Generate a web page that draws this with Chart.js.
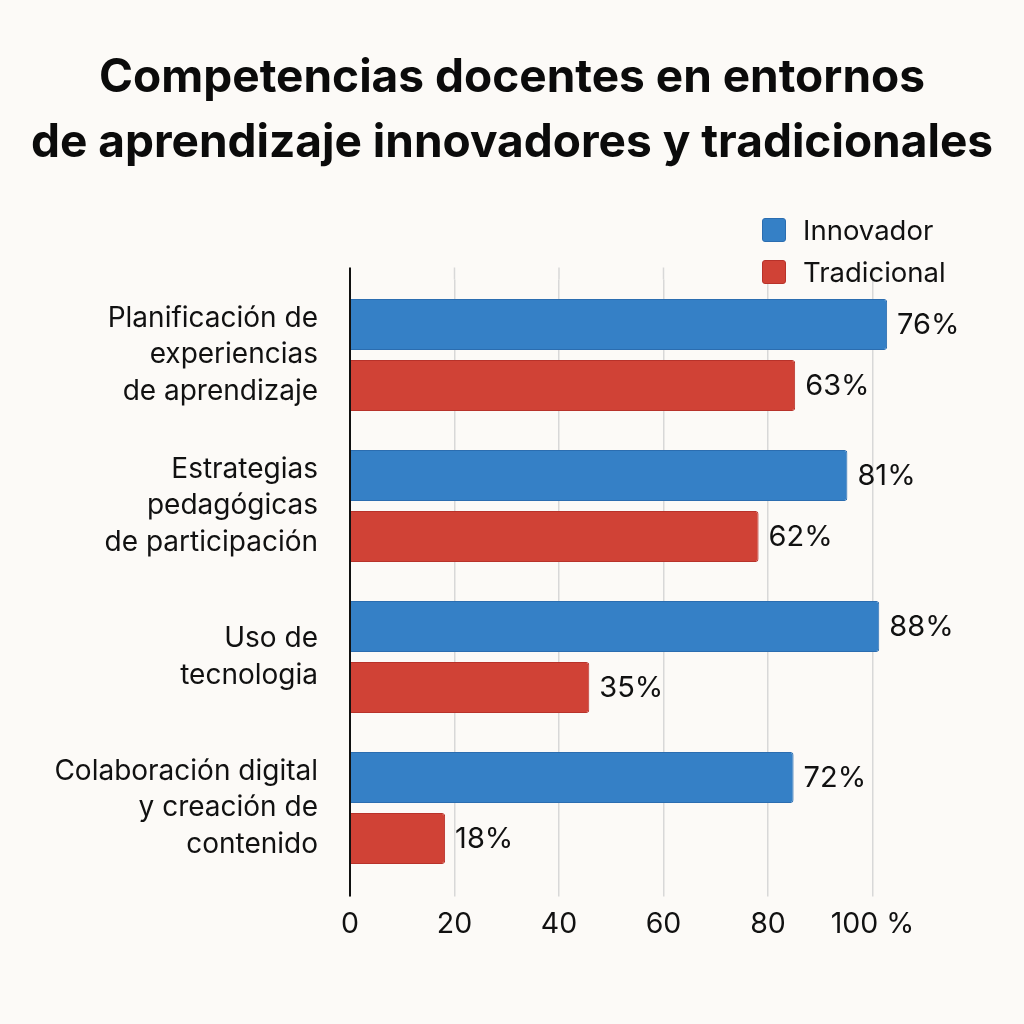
<!DOCTYPE html>
<html lang="es">
<head>
<meta charset="utf-8">
<title>Competencias docentes</title>
<script src="https://cdn.jsdelivr.net/npm/chart.js@4.4.1/dist/chart.umd.min.js"></script>
<style>
    html, body { margin: 0; padding: 0; background: #fcfaf7; }
    .chart { position: relative; width: 1024px; height: 1024px; }
    .legend { position: absolute; left: 762px; top: 209px; font-family: Inter, sans-serif; font-size: 27.5px; color: #111; }
    .legend__item { display: flex; align-items: center; height: 42px; }
    .legend__box { width: 24px; height: 24px; border-radius: 3px; margin-right: 17px; box-sizing: border-box; border: 1px solid; }
</style>
</head>
<body>
<div class="chart">
    <canvas id="chart" width="1024" height="1024"></canvas>
    <div class="legend"></div>
</div>
<script>
const titleLines = ['Competencias docentes en entornos', 'de aprendizaje innovadores y tradicionales'];
const categories = [
    ['Planificación de', 'experiencias', 'de aprendizaje'],
    ['Estrategias', 'pedagógicas', 'de participación'],
    ['Uso de', 'tecnologia'],
    ['Colaboración digital', 'y creación de', 'contenido'],
];
const seriesNames = ['Innovador', 'Tradicional'];
// bar lengths as drawn (axis units) and the percentages printed next to them
const innovadorValues = [102.8, 95.2, 101.3, 84.9];
const tradicionalValues = [85.2, 78.2, 45.8, 18.2];
const innovadorLabels = ['76%', '81%', '88%', '72%'];
const tradicionalLabels = ['63%', '62%', '35%', '18%'];
const xTicks = [0, 20, 40, 60, 80, 100];

(() => {
    const barLabels = [innovadorLabels, tradicionalLabels];

    Chart.defaults.font.family = 'Inter';
    Chart.defaults.color = '#111';

    const valueLabels = {
        id: 'valueLabels',
        afterDatasetsDraw(chart) {
            const { ctx } = chart;
            ctx.save();
            ctx.font = '29px Inter';
            ctx.fillStyle = '#111';
            ctx.textAlign = 'left';
            ctx.textBaseline = 'middle';
            chart.data.datasets.forEach((ds, i) => {
                chart.getDatasetMeta(i).data.forEach((bar, j) => {
                    ctx.fillText(barLabels[i][j], bar.x + 10, bar.y + 1);
                });
            });
            ctx.restore();
        },
    };

    const axisLines = {
        id: 'axisLines',
        beforeDatasetsDraw(chart) {
            const { ctx, chartArea, scales: { x } } = chart;
            ctx.save();
            ctx.strokeStyle = '#d8d8d8';
            ctx.lineWidth = 1.5;
            xTicks.slice(1).forEach((v) => {
                const px = x.getPixelForValue(v);
                ctx.beginPath();
                ctx.moveTo(px, chartArea.top - 12);
                ctx.lineTo(px, chartArea.top);
                ctx.stroke();
            });
            ctx.restore();
        },
        afterDatasetsDraw(chart) {
            const { ctx, chartArea, scales: { x } } = chart;
            const px = x.getPixelForValue(0);
            ctx.save();
            ctx.strokeStyle = '#111';
            ctx.lineWidth = 2;
            ctx.beginPath();
            ctx.moveTo(px, chartArea.top - 12);
            ctx.lineTo(px, chartArea.bottom + 13);
            ctx.stroke();
            ctx.restore();
        },
    };

    const chart = new Chart(document.getElementById('chart'), {
        type: 'bar',
        data: {
            labels: categories,
            datasets: [{
                label: seriesNames[0],
                data: innovadorValues,
                backgroundColor: '#3580c6',
                borderColor: '#2b6db0',
                borderWidth: 1,
                borderRadius: 3,
                categoryPercentage: 0.808,
                barPercentage: 0.836,
            }, {
                label: seriesNames[1],
                data: tradicionalValues,
                backgroundColor: '#d04236',
                borderColor: '#b8322a',
                borderWidth: 1,
                borderRadius: 3,
                categoryPercentage: 0.808,
                barPercentage: 0.836,
            }],
        },
        options: {
            indexAxis: 'y',
            responsive: false,
            animation: false,
            layout: { padding: 0 },
            plugins: {
                legend: { display: false },
                tooltip: { enabled: false },
                title: {
                    display: true,
                    text: titleLines,
                    color: '#0b0b0b',
                    font: { size: 46, weight: 'bold', lineHeight: 1.413 },
                    padding: { top: 45.5, bottom: 104 },
                },
            },
            scales: {
                x: {
                    min: 0,
                    max: 129,
                    afterBuildTicks: (axis) => {
                        axis.ticks = xTicks.map((v) => ({ value: v }));
                    },
                    afterFit: (scale) => {
                        scale.height = 140.5;
                    },
                    border: { display: false },
                    grid: {
                        color: '#d8d8d8',
                        lineWidth: 1.5,
                        tickLength: 13,
                        tickColor: '#d8d8d8',
                    },
                    ticks: {
                        padding: 11,
                        color: '#111',
                        font: { size: 28.5 },
                        callback: (value) => (value === 100 ? '100 %' : value),
                    },
                },
                y: {
                    afterFit: (scale) => {
                        scale.width = 350;
                    },
                    border: { display: false },
                    grid: { display: false, drawTicks: false },
                    ticks: {
                        padding: 32,
                        color: '#111',
                        font: { size: 28, lineHeight: 1.3 },
                    },
                },
            },
        },
        plugins: [axisLines, valueLabels],
    });

    const legend = document.querySelector('.legend');
    chart.data.datasets.forEach((ds) => {
        const item = document.createElement('div');
        item.className = 'legend__item';
        const box = document.createElement('span');
        box.className = 'legend__box';
        box.style.background = ds.backgroundColor;
        box.style.borderColor = ds.borderColor;
        const text = document.createElement('span');
        text.textContent = ds.label;
        item.append(box, text);
        legend.append(item);
    });
})();
</script>
</body>
</html>
